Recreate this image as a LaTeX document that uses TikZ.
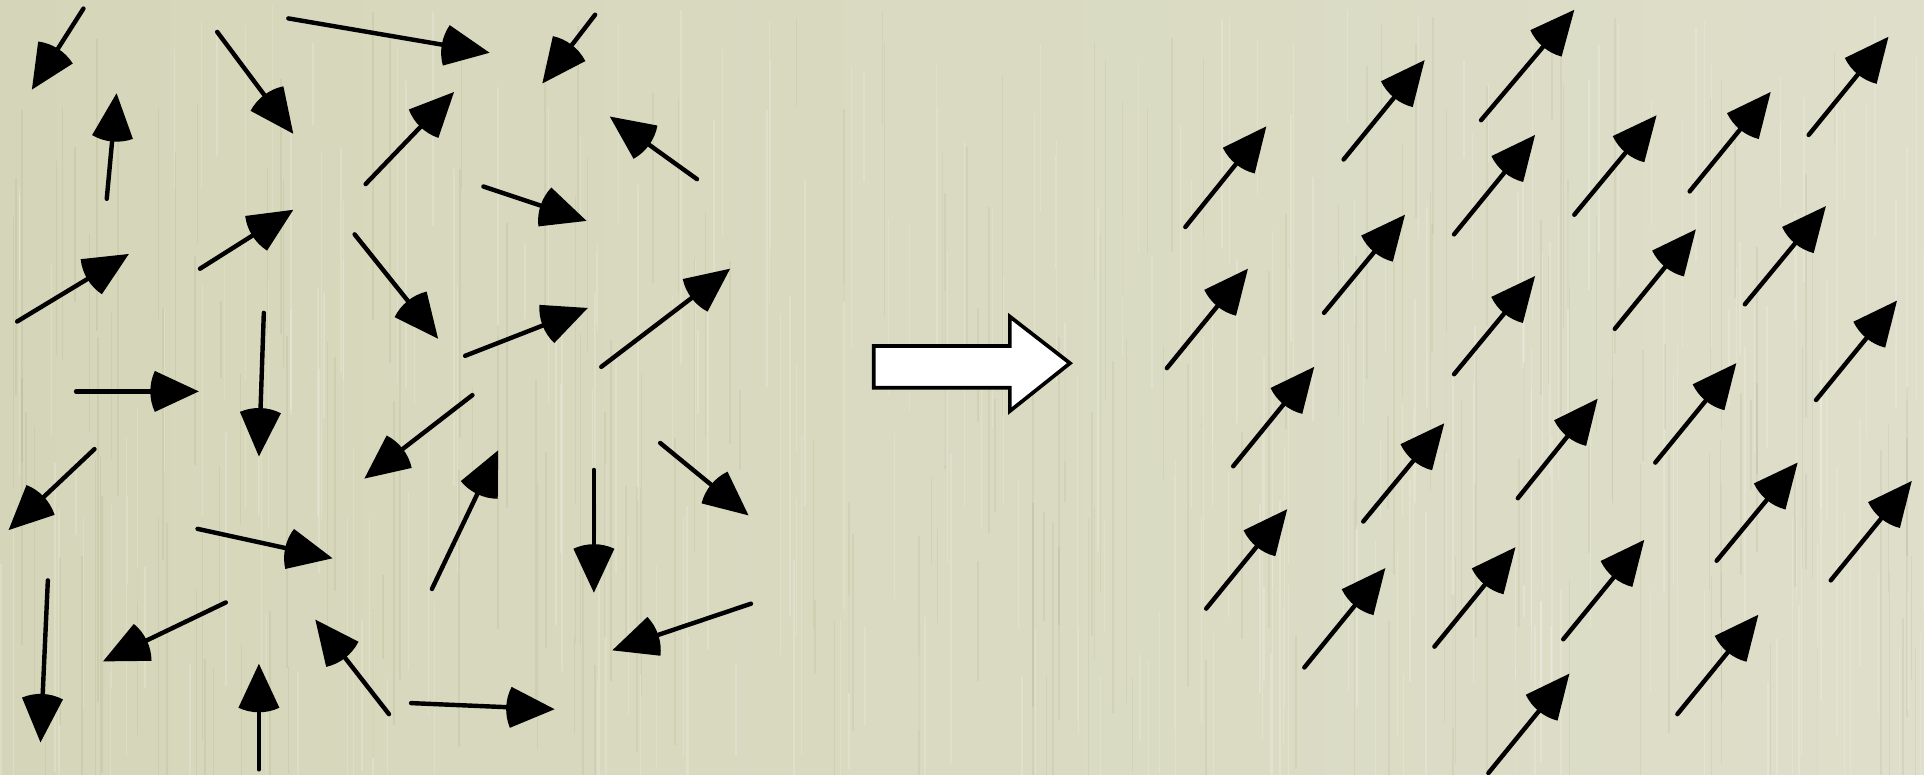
\documentclass[tikz,border=0pt]{standalone}
\usetikzlibrary{calc}
\definecolor{paperL}{RGB}{213,214,185}
\definecolor{paperR}{RGB}{222,222,202}
\tikzset{
  shaft/.style={line width=3.6pt, line cap=round, black},
  bigarrow/.style={draw=black, fill=white, line width=3pt, line join=miter},
  streak/.style={line width=1.2pt}
}
\newcommand{\spin}[4]{%
  \coordinate (st) at (#1,#2);
  \coordinate (sh) at (#3,#4);
  \draw[shaft] (st) -- ($(sh)!30pt!(st)$);
  \fill[black] let \p1=($(st)-(sh)$), \n1={atan2(\y1,\x1)} in
    (sh) -- ++(\n1+25:39.5pt) arc[start angle=\n1+25, end angle=\n1-25, radius=39.5pt] -- cycle;
}
\begin{document}
\begin{tikzpicture}[x=1pt,y=-1pt]
\useasboundingbox (0,0) rectangle (1568,631);
\shade[left color=paperL, right color=paperR] (0,0) rectangle (1568,631);
% paper texture
\pgfmathsetseed{7}
\foreach \i in {1,...,260}{
  \pgfmathsetmacro{\sx}{random(0,1568)}
  \pgfmathsetmacro{\sy}{random(0,560)}
  \pgfmathsetmacro{\sl}{random(60,300)}
  \draw[streak, white, opacity=0.18] (\sx,\sy) -- ++(0,\sl);
}
\foreach \i in {1,...,200}{
  \pgfmathsetmacro{\sx}{random(0,1568)}
  \pgfmathsetmacro{\sy}{random(0,560)}
  \pgfmathsetmacro{\sl}{random(60,300)}
  \draw[streak, black!40!olive, opacity=0.07] (\sx,\sy) -- ++(0,\sl);
}
% disordered spins
\spin{68}{7}{26}{73}
\spin{87}{162}{95}{76}
\spin{177}{26}{239}{109}
\spin{235}{15}{399}{43}
\spin{485}{12}{442}{68}
\spin{298}{150}{370}{75}
\spin{568}{146}{497}{95}
\spin{394}{152}{478}{180}
\spin{163}{219}{239}{171}
\spin{14}{262}{105}{207}
\spin{289}{191}{357}{276}
\spin{379}{290}{479}{251}
\spin{490}{299}{595}{219}
\spin{215}{255}{211}{372}
\spin{62}{319}{162}{319}
\spin{385}{322}{297}{390}
\spin{77}{366}{7}{432}
\spin{538}{361}{610}{420}
\spin{352}{480}{406}{367}
\spin{484}{383}{484}{483}
\spin{161}{431}{271}{455}
\spin{39}{473}{33}{605}
\spin{184}{491}{84}{539}
\spin{317}{582}{257}{505}
\spin{211}{627}{211}{541}
\spin{335}{573}{452}{578}
\spin{612}{492}{499}{530}
% big arrow
\draw[bigarrow] (712,282) -- (823,282) -- (823,258) -- (872,296) -- (823,335) -- (823,316) -- (712,316) -- cycle;
% ordered spins
\spin{966}{185}{1032}{103}
\spin{1095}{130}{1161}{49}
\spin{1207}{98}{1283}{8}
\spin{1474}{110}{1539}{30}
\spin{1185}{191}{1251}{110}
\spin{1283}{175}{1350}{94}
\spin{1377}{156}{1443}{75}
\spin{1079}{255}{1145}{175}
\spin{951}{300}{1017}{219}
\spin{1185}{305}{1251}{225}
\spin{1316}{268}{1382}{187}
\spin{1422}{248}{1488}{168}
\spin{1480}{326}{1546}{245}
\spin{1005}{380}{1071}{299}
\spin{1111}{425}{1177}{345}
\spin{1237}{406}{1302}{325}
\spin{1349}{377}{1415}{296}
\spin{983}{496}{1049}{415}
\spin{1063}{544}{1129}{463}
\spin{1169}{527}{1235}{446}
\spin{1274}{521}{1340}{440}
\spin{1399}{457}{1465}{377}
\spin{1492}{473}{1558}{392}
\spin{1367}{582}{1433}{501}
\spin{1213}{630}{1279}{549}
\end{tikzpicture}
\end{document}
